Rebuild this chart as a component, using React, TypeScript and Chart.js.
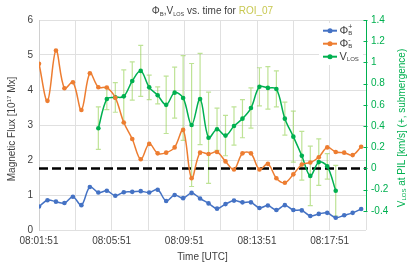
import React, { useEffect, useRef } from "react";
import { Chart, registerables } from "chart.js";

Chart.register(...registerables);

const TIMES = [
  "08:01:51", "08:02:19", "08:02:47", "08:03:15", "08:03:43", "08:04:11", "08:04:39", "08:05:07",
  "08:05:35", "08:06:03", "08:06:31", "08:06:59", "08:07:27", "08:07:55", "08:08:23", "08:08:51",
  "08:09:19", "08:09:47", "08:10:15", "08:10:43", "08:11:11", "08:11:39", "08:12:07", "08:12:35",
  "08:13:03", "08:13:31", "08:13:59", "08:14:27", "08:14:55", "08:15:23", "08:15:51", "08:16:19",
  "08:16:47", "08:17:15", "08:17:43", "08:18:11", "08:18:39", "08:19:07", "08:19:35",
];

const PHI_POS = [
  0.67, 0.85, 0.81, 0.77, 0.95, 0.71, 1.23, 1.07, 1.12, 0.98, 1.08, 1.09, 1.11, 1.07, 1.15, 0.83,
  1.0, 0.91, 1.06, 0.9, 0.76, 0.61, 0.74, 0.84, 0.79, 0.79, 0.63, 0.7, 0.57, 0.71, 0.57, 0.56,
  0.4, 0.46, 0.49, 0.35, 0.42, 0.49, 0.6,
];

const PHI_NEG = [
  4.75, 3.69, 5.13, 4.05, 4.22, 3.43, 4.48, 4.08, 4.07, 3.78, 3.07, 2.6, 2.02, 2.46, 2.19, 2.21,
  2.36, 2.86, 1.48, 2.21, 2.17, 2.23, 1.96, 1.73, 2.19, 2.19, 1.73, 1.89, 1.48, 1.35, 1.59, 1.87,
  1.93, 2.08, 2.36, 2.23, 2.21, 2.14, 2.38,
];

const VLOS = [
  null, null, null, null, null, null, null,
  0.38, 0.655, 0.67, 0.68, 0.825, 0.92, 0.765, 0.69, 0.6, 0.715, 0.665, 0.41, 0.655, 0.29, 0.37,
  0.31, 0.4, 0.47, 0.57, 0.77, 0.76, 0.75, 0.47, 0.3, 0.12, -0.07, 0.06, 0.02, -0.21,
  null, null, null,
];

const VLOS_ERR = [
  null, null, null, null, null, null, null,
  0.2, 0.1, 0.14, 0.25, 0.18, 0.24, 0.115, 0.08, 0.27, 0.24, 0.4, 0.58, 0.43, 0.43, 0.2,
  0.19, 0.18, 0.18, 0.19, 0.18, 0.2, 0.17, 0.155, 0.24, 0.23, 0.28, 0.22, 0.12, 0.24,
  null, null, null,
];

const X_TICK_LABELS = ["08:01:51", "08:05:51", "08:09:51", "08:13:51", "08:17:51"];
const LEFT_TICKS = [0, 1, 2, 3, 4, 5, 6];
const RIGHT_TICKS = [-0.4, -0.2, 0, 0.2, 0.4, 0.6, 0.8, 1, 1.2, 1.4];

const BLUE = "#4472c4";
const ORANGE = "#ed7d31";
const GREEN = "#00b050";
const ERR = "rgba(146,208,80,0.6)";
const FONT = "'Liberation Sans', Arial, sans-serif";

const toSec = (s: string) => {
  const [h, m, x] = s.split(":").map(Number);
  return h * 3600 + m * 60 + x;
};
const BASE = toSec(TIMES[0]);
const XS = TIMES.map((t) => toSec(t) - BASE);
const LABEL_SECS = X_TICK_LABELS.map((t) => toSec(t) - BASE);

type Part = { t: string; size: number; dy?: number; color?: string; noAdvance?: boolean };

function richWidth(ctx: CanvasRenderingContext2D, parts: Part[]) {
  let w = 0;
  for (const p of parts) {
    if (p.noAdvance) continue;
    ctx.font = `${p.size}px ${FONT}`;
    w += ctx.measureText(p.t).width;
  }
  return w;
}

function drawRich(ctx: CanvasRenderingContext2D, parts: Part[], x: number, y: number, color: string) {
  let cx = x;
  let lastX = x;
  for (const p of parts) {
    ctx.font = `${p.size}px ${FONT}`;
    ctx.fillStyle = p.color || color;
    ctx.textBaseline = "middle";
    ctx.textAlign = "left";
    const startX = p.noAdvance ? lastX : cx;
    ctx.fillText(p.t, startX, y + (p.dy || 0));
    if (!p.noAdvance) {
      lastX = cx;
      cx += ctx.measureText(p.t).width;
    }
  }
}

const overlay = {
  id: "overlay",
  beforeDatasetsDraw(chart: any) {
    const ctx = chart.ctx as CanvasRenderingContext2D;
    const xs = chart.scales.x;
    const y1 = chart.scales.y1;
    const area = chart.chartArea;
    ctx.save();
    ctx.strokeStyle = ERR;
    ctx.lineWidth = 1.2;
    VLOS.forEach((v, i) => {
      const e = VLOS_ERR[i];
      if (v == null || e == null) return;
      const px = xs.getPixelForValue(XS[i]);
      const top = y1.getPixelForValue(v + e);
      const bot = y1.getPixelForValue(v - e);
      ctx.beginPath();
      ctx.moveTo(px, top);
      ctx.lineTo(px, bot);
      ctx.moveTo(px - 2.5, top);
      ctx.lineTo(px + 2.5, top);
      ctx.moveTo(px - 2.5, bot);
      ctx.lineTo(px + 2.5, bot);
      ctx.stroke();
    });
    const yz = y1.getPixelForValue(0);
    ctx.strokeStyle = "#000";
    ctx.lineWidth = 2.5;
    ctx.setLineDash([9, 4]);
    ctx.beginPath();
    ctx.moveTo(area.left, yz);
    ctx.lineTo(area.right, yz);
    ctx.stroke();
    ctx.restore();
  },
  afterDraw(chart: any) {
    const ctx = chart.ctx as CanvasRenderingContext2D;
    const y1 = chart.scales.y1;
    const area = chart.chartArea;
    ctx.save();
    const topY = y1.getPixelForValue(1.4);
    const botY = y1.getPixelForValue(-0.4);
    ctx.strokeStyle = GREEN;
    ctx.lineWidth = 1;
    ctx.beginPath();
    ctx.moveTo(area.right + 0.5, topY);
    ctx.lineTo(area.right + 0.5, botY);
    RIGHT_TICKS.forEach((v) => {
      const py = Math.round(y1.getPixelForValue(v)) + 0.5;
      ctx.moveTo(area.right - 2.5, py);
      ctx.lineTo(area.right + 1.5, py);
    });
    ctx.stroke();

    const title: Part[] = [
      { t: "Φ", size: 10 },
      { t: "B", size: 6, dy: 2.5 },
      { t: ",V", size: 10 },
      { t: "LOS", size: 5.5, dy: 2.5 },
      { t: " vs. time for ", size: 10 },
      { t: "ROI_07", size: 10, color: "#c8c850" },
    ];
    const tw = richWidth(ctx, title);
    drawRich(ctx, title, 212.5 - tw / 2, 11.5, "#404040");

    ctx.font = `10px ${FONT}`;
    ctx.fillStyle = "#404040";
    ctx.textAlign = "center";
    ctx.textBaseline = "middle";
    ctx.fillText("Time [UTC]", (area.left + area.right) / 2, 257);

    const lt: Part[] = [
      { t: "Magnetic Flux [10", size: 10 },
      { t: "17", size: 6, dy: -3 },
      { t: " Mx]", size: 10 },
    ];
    const lw = richWidth(ctx, lt);
    ctx.save();
    ctx.translate(12, 129);
    ctx.rotate(-Math.PI / 2);
    drawRich(ctx, lt, -lw / 2, 0, "#404040");
    ctx.restore();

    const rt: Part[] = [
      { t: "V", size: 10 },
      { t: "LOS", size: 6, dy: 2.5 },
      { t: " at PIL [km/s] (+, submergence)", size: 10 },
    ];
    const rw = richWidth(ctx, rt);
    ctx.save();
    ctx.translate(402, 128);
    ctx.rotate(-Math.PI / 2);
    drawRich(ctx, rt, -rw / 2, 0, GREEN);
    ctx.restore();

    ctx.fillStyle = "#fff";
    ctx.fillRect(319, 23, 44, 42);
    const items: { c: string; parts: Part[] }[] = [
      { c: BLUE, parts: [{ t: "Φ", size: 11 }, { t: "B", size: 6, dy: 3 }, { t: "+", size: 7, dy: -4, noAdvance: true }] },
      { c: ORANGE, parts: [{ t: "Φ", size: 11 }, { t: "B", size: 6, dy: 3 }, { t: "-", size: 7, dy: -4, noAdvance: true }] },
      { c: GREEN, parts: [{ t: "V", size: 11 }, { t: "LOS", size: 6, dy: 2.5 }] },
    ];
    items.forEach((it, k) => {
      const yy = 30.7 + k * 13;
      ctx.strokeStyle = it.c;
      ctx.lineWidth = 2;
      ctx.beginPath();
      ctx.moveTo(323, yy);
      ctx.lineTo(337, yy);
      ctx.stroke();
      ctx.fillStyle = it.c;
      ctx.beginPath();
      ctx.arc(330, yy, 2.5, 0, Math.PI * 2);
      ctx.fill();
      drawRich(ctx, it.parts, 339.5, yy, "#404040");
    });
    ctx.restore();
  },
};

export default function App() {
  const ref = useRef<HTMLCanvasElement>(null);
  useEffect(() => {
    if (!ref.current) return;
    const mk = (vals: (number | null)[]) => vals.map((v, i) => ({ x: XS[i], y: v }));
    const common = {
      borderWidth: 1.5,
      pointRadius: 2.3,
      pointBorderWidth: 0,
      tension: 0.35,
      spanGaps: false,
    };
    const chart = new Chart(ref.current, {
      type: "line",
      data: {
        datasets: [
          { label: "PhiB+", data: mk(PHI_POS), borderColor: BLUE, backgroundColor: BLUE, yAxisID: "y", ...common },
          { label: "PhiB-", data: mk(PHI_NEG), borderColor: ORANGE, backgroundColor: ORANGE, yAxisID: "y", ...common },
          { label: "VLOS", data: mk(VLOS), borderColor: GREEN, backgroundColor: GREEN, yAxisID: "y1", ...common },
        ],
      },
      options: {
        animation: false,
        responsive: false,
        maintainAspectRatio: false,
        layout: { padding: { top: 20, left: 0, right: 0, bottom: 0 } },
        plugins: { legend: { display: false }, title: { display: false }, tooltip: { enabled: false } },
        scales: {
          x: {
            type: "linear",
            min: 0,
            max: 1080,
            afterFit: (s: any) => { s.height = 38; },
            afterBuildTicks: (s: any) => {
              const t = [];
              for (let v = 0; v <= 1080; v += 120) t.push({ value: v });
              s.ticks = t;
            },
            ticks: {
              autoSkip: false,
              maxRotation: 0,
              padding: 5,
              color: "#404040",
              font: { family: FONT, size: 10 },
              callback: (v: any) => {
                const i = LABEL_SECS.indexOf(Number(v));
                return i >= 0 ? X_TICK_LABELS[i] : "";
              },
            },
            grid: { color: "#e0e0e0", drawTicks: false },
            border: { display: false },
          },
          y: {
            position: "left",
            min: 0,
            max: 6,
            afterFit: (s: any) => { s.width = 39; },
            afterBuildTicks: (s: any) => { s.ticks = LEFT_TICKS.map((v) => ({ value: v })); },
            ticks: { padding: 6, color: "#404040", font: { family: FONT, size: 10 } },
            grid: { color: "#e0e0e0", drawTicks: false },
            border: { color: "#d0d0d0" },
          },
          y1: {
            position: "right",
            min: -0.58,
            max: 1.4,
            afterFit: (s: any) => { s.width = 49; },
            afterBuildTicks: (s: any) => { s.ticks = RIGHT_TICKS.map((v) => ({ value: v })); },
            ticks: {
              padding: 5,
              color: GREEN,
              font: { family: FONT, size: 10 },
              callback: (v: any) => String(Number(Number(v).toFixed(1))),
            },
            grid: { drawOnChartArea: false, drawTicks: false },
            border: { display: false },
          },
        },
      },
      plugins: [overlay],
    } as any);
    return () => chart.destroy();
  }, []);
  return (
    <div style={{ position: "absolute", left: 0, top: 0, width: 415, height: 268, background: "#fff" }}>
      <canvas ref={ref} width={415} height={268} style={{ width: 415, height: 268, display: "block" }} />
    </div>
  );
}
